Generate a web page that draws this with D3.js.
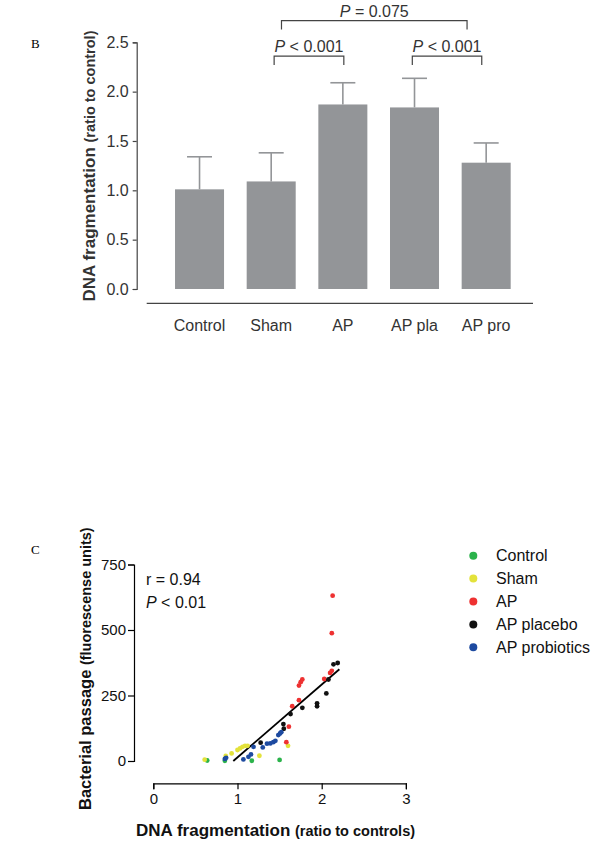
<!DOCTYPE html>
<html><head><meta charset="utf-8">
<script src="https://cdn.jsdelivr.net/npm/d3@7"></script>
<style>
html,body{margin:0;padding:0;background:#fff;}
svg{display:block;font-family:"Liberation Sans",Arial,sans-serif;}
</style></head>
<body>
<svg id="c" width="595" height="842"></svg>
<script>
// ---------- Panel B data ----------
const groups = ["Control","Sham","AP","AP pla","AP pro"];
const means  = [1.01, 1.09, 1.87, 1.84, 1.28];
const upper  = [1.34, 1.38, 2.09, 2.135, 1.48];
const barTicks = [0, 0.5, 1.0, 1.5, 2.0, 2.5];
const brackets = [
  {from:"Sham",   to:"AP",     label:"< 0.001", level:2.36},
  {from:"AP pla", to:"AP pro", label:"< 0.001", level:2.36},
  {from:"Sham",   to:"AP pro", label:"= 0.075", level:2.72}
];

// ---------- Panel C data ----------
const legendNames = ["Control","Sham","AP","AP placebo","AP probiotics"];
const controlPts = [[0.64,2],[0.85,1],[1.17,1],[1.50,4]];
const shamPts = [[0.61,5],[0.86,19],[0.93,29],[1.00,42],[1.03,48],[1.06,54],[1.09,58],[1.12,58],[1.26,20],[1.60,58]];
const apPts = [[1.58,72],[1.61,131],[1.65,209],[1.73,232],[1.73,288],[1.75,301],[1.77,311],[2.03,313],[2.10,336],[2.12,344],[2.12,488],[2.13,631]];
const placeboPts = [[1.275,70],[1.545,141],[1.55,123],[1.63,179],[1.77,203],[1.945,220],[1.945,209],[2.055,258],[2.08,311],[2.14,369],[2.19,374]];
const probioticPts = [[0.85,8],[0.865,12],[1.07,6],[1.13,16],[1.16,25],[1.19,54],[1.30,52],[1.35,66],[1.39,67],[1.425,72],[1.45,77],[1.485,99],[1.505,105],[1.52,110]];
const fitLine = [[0.95,0],[2.21,350]];
const scatterXTicks = [0,1,2,3];
const scatterYTicks = [0,250,500,750];
const stats = {r:"r = 0.94", p:"< 0.01"};

const svg = d3.select("#c");
const gray = "#939598";
const axisCol = "#444";

// ===== Panel B =====
svg.append("text").attr("x",31).attr("y",48).attr("font-family","'Liberation Serif','Times New Roman',serif")
  .attr("font-size",13).text("B");

const xb = d3.scaleBand().domain(groups).range([163.7,522]).paddingInner(0.316).paddingOuter(0.158);
const yb = d3.scaleLinear().domain([0,2.5]).range([289,42.3]);

const gB = svg.append("g");
gB.selectAll("rect.bar").data(groups).join("rect")
  .attr("x",d=>xb(d)).attr("width",xb.bandwidth())
  .attr("y",(d,i)=>yb(means[i])).attr("height",(d,i)=>yb(0)-yb(means[i]))
  .attr("fill",gray);
// error bars
gB.selectAll("line.err").data(groups).join("line")
  .attr("x1",d=>xb(d)+xb.bandwidth()/2).attr("x2",d=>xb(d)+xb.bandwidth()/2)
  .attr("y1",(d,i)=>yb(means[i])).attr("y2",(d,i)=>yb(upper[i]))
  .attr("stroke",gray).attr("stroke-width",1.6);
gB.selectAll("line.cap").data(groups).join("line")
  .attr("x1",d=>xb(d)+xb.bandwidth()/2-12.5).attr("x2",d=>xb(d)+xb.bandwidth()/2+12.5)
  .attr("y1",(d,i)=>yb(upper[i])).attr("y2",(d,i)=>yb(upper[i]))
  .attr("stroke",gray).attr("stroke-width",1.6);

// y axis
const yAxB = d3.axisLeft(yb).tickValues(barTicks).tickFormat(d3.format(".1f")).tickSize(4).tickPadding(4);
const gyB = svg.append("g").attr("transform","translate(136.7,0)").call(yAxB);
gyB.select(".domain").attr("stroke",axisCol).attr("stroke-width",1.2);
gyB.selectAll(".tick line").attr("stroke",axisCol).attr("stroke-width",1.2);
gyB.selectAll(".tick text").attr("font-size",16).attr("fill","#333").attr("font-family","'Liberation Sans',Arial,sans-serif");

// x axis (offset horizontal line + labels)
const xAxB = d3.axisBottom(xb).tickSize(0).tickPadding(16);
const gxB = svg.append("g").attr("transform","translate(0,303.3)").call(xAxB);
gxB.select(".domain").remove();
gxB.append("line").attr("x1",146.7).attr("x2",533).attr("y1",0).attr("y2",0).attr("stroke",axisCol).attr("stroke-width",1.2);
gxB.selectAll(".tick text").attr("font-size",16).attr("fill","#333").attr("font-family","'Liberation Sans',Arial,sans-serif");

// y title
const tB = svg.append("text").attr("transform","translate(95,166) rotate(-90)").attr("text-anchor","middle").attr("fill","#333");
tB.append("tspan").attr("font-weight","bold").attr("font-size",17).text("DNA fragmentation ");
tB.append("tspan").attr("font-weight","bold").attr("font-size",14.5).text("(ratio to control)");

// significance brackets
const frac = {"Sham|AP":[0.56,0.52],"AP pla|AP pro":[0.455,0.41],"Sham|AP pro":[0.71,0.11]};
brackets.forEach(b=>{
  const f = frac[b.from+"|"+b.to];
  const x1 = xb(b.from)+xb.bandwidth()*f[0];
  const x2 = xb(b.to)+xb.bandwidth()*f[1];
  const y = yb(b.level);
  svg.append("path").attr("d",`M${x1},${y+9}V${y}H${x2}V${y+9}`)
    .attr("fill","none").attr("stroke",axisCol).attr("stroke-width",1.2);
  const t = svg.append("text").attr("x",(x1+x2)/2).attr("y",y-4).attr("text-anchor","middle")
    .attr("font-size",16).attr("fill","#333");
  t.append("tspan").attr("font-style","italic").text("P");
  t.append("tspan").text(" "+b.label);
});

// ===== Panel C =====
svg.append("text").attr("x",31).attr("y",554).attr("font-family","'Liberation Serif','Times New Roman',serif")
  .attr("font-size",13).text("C");

const xs = d3.scaleLinear().domain([0,3]).range([153.3,405.9]);
const ys = d3.scaleLinear().domain([0,750]).range([761,564.5]);

const gyS = svg.append("g").attr("transform","translate(134,0)")
  .call(d3.axisLeft(ys).tickValues(scatterYTicks).tickFormat(d3.format("d")).tickSize(6).tickPadding(2));
gyS.select(".domain").attr("stroke","#000").attr("stroke-width",1.2);
gyS.selectAll(".tick line").attr("stroke","#000").attr("stroke-width",1.2);
gyS.selectAll(".tick text").attr("font-size",15).attr("fill","#111").attr("font-family","'Liberation Sans',Arial,sans-serif");

const gxS = svg.append("g").attr("transform","translate(0,783.3)")
  .call(d3.axisBottom(xs).tickValues(scatterXTicks).tickFormat(d3.format("d")).tickSize(6).tickPadding(4));
gxS.select(".domain").attr("stroke","#000").attr("stroke-width",1.2);
gxS.selectAll(".tick line").attr("stroke","#000").attr("stroke-width",1.2);
gxS.selectAll(".tick text").attr("font-size",15).attr("fill","#111").attr("font-family","'Liberation Sans',Arial,sans-serif");

// titles
const txS = svg.append("text").attr("x",136).attr("y",835.5).attr("fill","#111");
txS.append("tspan").attr("font-weight","bold").attr("font-size",17).text("DNA fragmentation ");
txS.append("tspan").attr("font-weight","bold").attr("font-size",14.5).text("(ratio to controls)");
const tyS = svg.append("text").attr("transform","translate(91,810) rotate(-90)").attr("fill","#111");
tyS.append("tspan").attr("font-weight","bold").attr("font-size",16.5).text("Bacterial passage ");
tyS.append("tspan").attr("font-weight","bold").attr("font-size",14.5).text("(fluorescense units)");

// stats text
svg.append("text").attr("x",146).attr("y",585).attr("font-size",16).attr("fill","#111").text(stats.r);
const tp = svg.append("text").attr("x",146).attr("y",607.5).attr("font-size",16).attr("fill","#111");
tp.append("tspan").attr("font-style","italic").text("P");
tp.append("tspan").text(" "+stats.p);

// fit line
svg.append("line").attr("x1",xs(fitLine[0][0])).attr("y1",ys(fitLine[0][1]))
  .attr("x2",xs(fitLine[1][0])).attr("y2",ys(fitLine[1][1]))
  .attr("stroke","#000").attr("stroke-width",1.8);

const colors = ["#2bb34b","#e3e23b","#ee3131","#111111","#1d4aa0"];
const series = [controlPts, shamPts, apPts, placeboPts, probioticPts];
series.forEach((pts,i)=>{
  svg.append("g").selectAll("circle").data(pts).join("circle")
    .attr("cx",d=>xs(d[0])).attr("cy",d=>ys(d[1])).attr("r",2.4).attr("fill",colors[i]);
});

// legend
const lg = svg.append("g");
legendNames.forEach((n,i)=>{
  const y = 555.7 + i*22.9;
  lg.append("circle").attr("cx",473.3).attr("cy",y).attr("r",4).attr("fill",colors[i]);
  lg.append("text").attr("x",496).attr("y",y+5.5).attr("font-size",16).attr("fill","#111").text(n);
});
</script>
</body></html>
